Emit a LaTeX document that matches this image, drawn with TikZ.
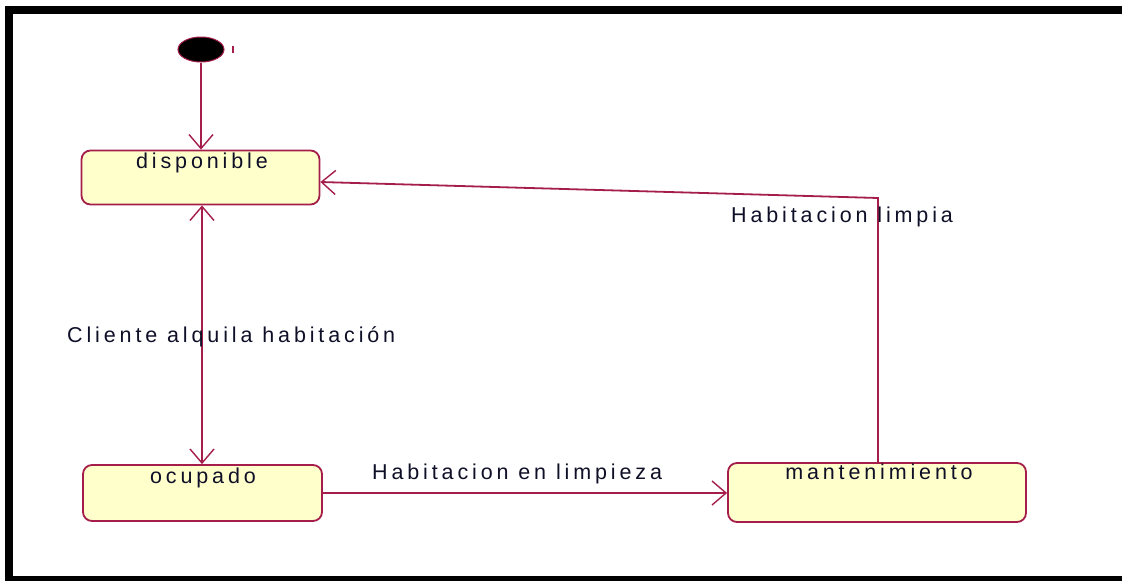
\documentclass[tikz,border=0pt]{standalone}
\usepackage{fontspec}
\setmainfont{Liberation Sans}[LetterSpace=18]
\usetikzlibrary{arrows.meta,shapes.geometric}
\definecolor{umlred}{RGB}{165,30,75}
\definecolor{umlfill}{RGB}{255,255,204}
\definecolor{umltext}{RGB}{15,15,40}
\begin{document}
\begin{tikzpicture}[x=1pt,y=-1pt,
  statebox/.style={draw=umlred,fill=umlfill,line width=1.8pt,rounded corners=9pt,rectangle,inner sep=0pt},
  statetext/.style={anchor=base,text=umltext,font=\fontsize{21.5}{24}\selectfont,inner sep=0pt},
  lbl/.style={anchor=base west,text=umltext,font=\fontsize{21.5}{24}\selectfont,inner sep=0pt},
  conn/.style={draw=umlred,line width=1.8pt},
  tip/.style={-{Straight Barb[length=14pt,width=24pt,line width=1.4pt]}},
  initstate/.style={ellipse,fill=black,draw=umlred,line width=1pt,minimum width=46pt,minimum height=25pt,inner sep=0pt}]
\useasboundingbox (0,0) rectangle (1122,581);
\fill[white] (0,0) rectangle (1122,581);
% frame
\fill[black] (5,6) rectangle (1122,14);
\fill[black] (5,6) rectangle (13,581);
\fill[black] (5,576) rectangle (1122,581);
% states
\node[initstate] (init) at (201,49.5) {};
\draw[umlred,line width=1.2pt] (233,46) -- (233,53);
\node[statebox,minimum width=238pt,minimum height=54pt] (d) at (200.5,177.5) {};
\node[statebox,minimum width=239pt,minimum height=56pt] (o) at (202.5,493) {};
\node[statebox,minimum width=298pt,minimum height=59pt] (m) at (877,492.5) {};
\node[statetext] (dt) at (202,168) {disponible};
\node[statetext] (ot) at (203,483) {ocupado};
\node[statetext] (mt) at (879,479) {mantenimiento};
% connectors
\draw[conn,tip] (init.south) -- (init.south |- d.north);
\draw[conn,{Straight Barb[length=14pt,width=24pt,line width=1.4pt]}-{Straight Barb[length=14pt,width=24pt,line width=1.4pt]}] ([xshift=1.5pt]d.south) -- ([xshift=1.5pt]d.south |- o.north);
\draw[conn,tip] (o.east) -- (o.east -| m.west);
\coordinate (corner) at (878,198);
\draw[conn,tip] (m.north -| corner) -- (corner) -- ([yshift=-4.5pt]d.east);
% labels
\node[lbl] (l1) at (67,342) {Cliente alquila habitación};
\node[lbl] (l2) at (372,479) {Habitacion en limpieza};
\node[lbl] (l3) at (731,222) {Habitacion limpia};
\end{tikzpicture}
\end{document}
